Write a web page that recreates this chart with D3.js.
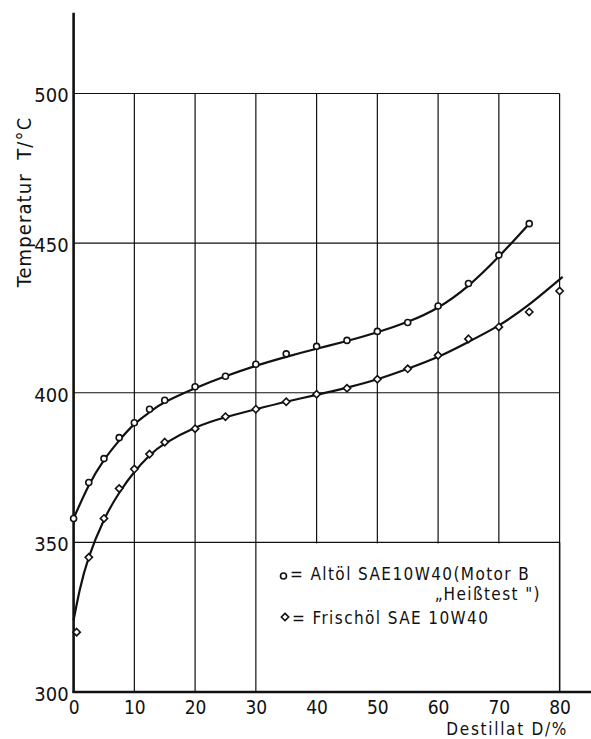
<!DOCTYPE html>
<html lang="de">
	<head>
		<meta charset="utf-8">
		<title>Destillationskurve Altöl / Frischöl</title>
		<script src="https://d3js.org/d3.v7.min.js"></script>
		<style type="text/css">
			body { margin: 0; background: #fff; }
			text { font-family: "DejaVu Sans Condensed", "DejaVu Sans", sans-serif; fill: #111; }
		</style>
	</head>
	<body>
		<script type="text/javascript">
			// tick labels
			var xTicks = [0, 10, 20, 30, 40, 50, 60, 70, 80];
			var yTicks = [300, 350, 400, 450, 500];

			// Altöl SAE10W40 (Motor B "Heißtest") - circles
			var altD = [0, 2.5, 5, 7.5, 10, 12.5, 15, 20, 25, 30, 35, 40, 45, 50, 55, 60, 65, 70, 75];
			var altT = [358, 370, 378, 385, 390, 394.5, 397.5, 402, 405.5, 409.5, 413, 415.5, 417.5, 420.5, 423.5, 429, 436.5, 446, 456.5];
			// drawn (fitted) line
			var altLineD = [0, 2.5, 5, 7.5, 10, 12.5, 15, 20, 25, 30, 35, 40, 45, 50, 55, 60, 65, 70, 75];
			var altLineT = [358, 369, 377.5, 384, 389.5, 393.5, 396.8, 401.5, 405.5, 409, 412, 414.7, 417.3, 420.2, 423.7, 428.5, 435.8, 445.5, 456.5];

			// Frischöl SAE 10W40 - diamonds
			var frD = [0.5, 2.5, 5, 7.5, 10, 12.5, 15, 20, 25, 30, 35, 40, 45, 50, 55, 60, 65, 70, 75, 80];
			var frT = [320, 345, 358, 368, 374.5, 379.5, 383.5, 388, 392, 394.5, 397, 399.5, 401.5, 404.5, 408, 412.5, 418, 422, 427, 434];
			var frLineD = [0, 1, 2.5, 5, 7.5, 10, 12.5, 15, 20, 25, 30, 35, 40, 45, 50, 55, 60, 65, 70, 75, 80.5];
			var frLineT = [324, 334, 345, 357.5, 366.5, 373.5, 379, 383, 388.3, 391.8, 394.5, 397, 399.3, 401.7, 404.5, 408, 412, 417, 422.5, 429.5, 438.7];

			var w = 591, h = 739;

			var svg = d3.select("body").append("svg")
				.attr("width", w)
				.attr("height", h);

			var x = d3.scaleLinear().domain([0, 80]).range([73.6, 559.6]);
			var y = d3.scaleLinear().domain([300, 500]).range([692, 93.5]);

			// grid
			var grid = svg.append("g").attr("stroke", "#111").attr("stroke-width", 1.2);
			grid.selectAll("line.v")
				.data(xTicks.slice(1))
				.enter().append("line")
				.attr("x1", function(d){ return x(d); })
				.attr("x2", function(d){ return x(d); })
				.attr("y1", y(500))
				.attr("y2", y(300));
			grid.selectAll("line.h")
				.data(yTicks.slice(1))
				.enter().append("line")
				.attr("x1", x(0))
				.attr("x2", x(80))
				.attr("y1", function(d){ return y(d); })
				.attr("y2", function(d){ return y(d); });

			// legend box blanks out the grid
			svg.append("rect")
				.attr("x", x(32.5))
				.attr("y", y(350) + 1)
				.attr("width", x(80) - x(32.5) - 1)
				.attr("height", y(300) - y(350) - 2)
				.attr("fill", "#fff");
			svg.append("line")
				.attr("x1", x(80)).attr("x2", x(80))
				.attr("y1", y(350)).attr("y2", y(300))
				.attr("stroke", "#111").attr("stroke-width", 1.4);

			// axes lines
			svg.append("line")
				.attr("x1", x(0)).attr("x2", x(0))
				.attr("y1", y(527)).attr("y2", y(300) + 1)
				.attr("stroke", "#111").attr("stroke-width", 2.6);
			svg.append("line")
				.attr("x1", x(0) - 1).attr("x2", w)
				.attr("y1", y(300)).attr("y2", y(300))
				.attr("stroke", "#111").attr("stroke-width", 2.4);

			// tick labels
			var xAxis = svg.append("g")
				.attr("transform", "translate(0," + y(300) + ")")
				.call(d3.axisBottom(x).tickValues(xTicks).tickSize(0).tickPadding(5));
			var yAxis = svg.append("g")
				.attr("transform", "translate(" + x(0) + ",0)")
				.call(d3.axisLeft(y).tickValues(yTicks).tickSize(0).tickPadding(5));
			svg.selectAll(".domain").remove();
			svg.selectAll(".tick text")
				.style("font-family", "'DejaVu Sans Condensed', sans-serif")
				.attr("fill", "#111");
			xAxis.selectAll("text").attr("dy", "0.9em").style("font-size", "19px");
			yAxis.selectAll("text").attr("dy", "0.42em").style("font-size", "20px");

			// axis titles
			svg.append("text")
				.attr("x", 568)
				.attr("y", 735)
				.attr("text-anchor", "end")
				.style("font-size", "17px")
				.style("letter-spacing", "1.7px")
				.text("Destillat D/%");
			svg.append("text")
				.attr("transform", "translate(31,202) rotate(-90)")
				.attr("text-anchor", "middle")
				.style("font-size", "20px")
				.style("letter-spacing", "1.1px")
				.style("white-space", "pre")
				.text("Temperatur  T/°C");

			// curves
			var line = d3.line()
				.x(function(d){ return x(d[0]); })
				.y(function(d){ return y(d[1]); })
				.curve(d3.curveNatural);

			svg.append("path")
				.datum(d3.zip(altLineD, altLineT))
				.attr("d", line)
				.attr("fill", "none")
				.attr("stroke", "#111")
				.attr("stroke-width", 2.2);
			svg.append("path")
				.datum(d3.zip(frLineD, frLineT))
				.attr("d", line)
				.attr("fill", "none")
				.attr("stroke", "#111")
				.attr("stroke-width", 2.2);

			// markers
			svg.selectAll("circle.alt")
				.data(d3.zip(altD, altT))
				.enter().append("circle")
				.attr("cx", function(d){ return x(d[0]); })
				.attr("cy", function(d){ return y(d[1]); })
				.attr("r", 3)
				.attr("fill", "#fff")
				.attr("stroke", "#111")
				.attr("stroke-width", 1.6);

			var diamond = d3.symbol().type(d3.symbolDiamond2).size(34);
			svg.selectAll("path.fr")
				.data(d3.zip(frD, frT))
				.enter().append("path")
				.attr("transform", function(d){ return "translate(" + x(d[0]) + "," + y(d[1]) + ")"; })
				.attr("d", diamond)
				.attr("fill", "#fff")
				.attr("stroke", "#111")
				.attr("stroke-width", 1.6);

			// legend
			var leg = svg.append("g").style("font-size", "17px").style("letter-spacing", "1.4px");
			leg.append("circle")
				.attr("cx", 283.5).attr("cy", 576)
				.attr("r", 3)
				.attr("fill", "#fff").attr("stroke", "#111").attr("stroke-width", 1.6);
			leg.append("path")
				.attr("transform", "translate(285,617)")
				.attr("d", diamond)
				.attr("fill", "#fff").attr("stroke", "#111").attr("stroke-width", 1.6);
			leg.append("text")
				.attr("x", 290).attr("y", 580)
				.style("white-space", "pre")
				.text("= Altöl SAE10W40(Motor B");
			leg.append("text")
				.attr("x", 541).attr("y", 600)
				.attr("text-anchor", "end")
				.style("white-space", "pre")
				.text("„Heißtest \")");
			leg.append("text")
				.attr("x", 292).attr("y", 624)
				.style("white-space", "pre")
				.text("= Frischöl SAE 10W40");
		</script>
	</body>
</html>
